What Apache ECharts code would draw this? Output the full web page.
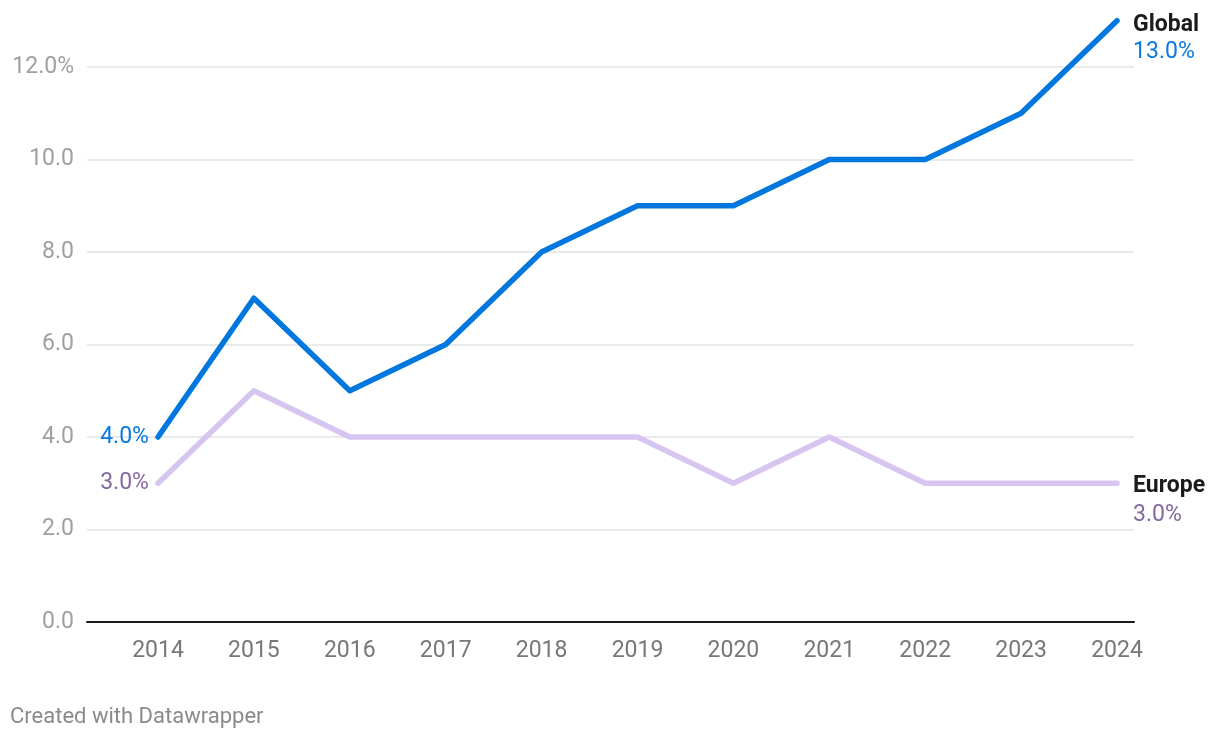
<!DOCTYPE html>
<html>
<head>
<meta charset="utf-8">
<script src="https://cdn.jsdelivr.net/npm/echarts@6/dist/echarts.min.js"></script>
<style>
html,body{margin:0;padding:0;background:#fff;}
#c{width:1220px;height:738px;}
</style>
</head>
<body>
<div id="c"></div>
<script>
const years = ['2014','2015','2016','2017','2018','2019','2020','2021','2022','2023','2024'];
const globalValues = [4, 7, 5, 6, 8, 9, 9, 10, 10, 11, 13];
const europeValues = [3, 5, 4, 4, 4, 4, 3, 4, 3, 3, 3];
const yTicks = [0, 2, 4, 6, 8, 10, 12];

const FONT = 'Roboto';
const FS = 23;

function buildData(values, name, color, lh, shift) {
  const n = values.length;
  return values.map((v, i) => {
    if (i === 0) {
      return { value: v, label: { show: true, position: 'left', distance: 9,
        formatter: v.toFixed(1) + '%', color: color, fontSize: FS, fontFamily: FONT,
        padding: [2, 0, 0, 0] } };
    }
    if (i === n - 1) {
      return { value: v, label: { show: true, position: 'right', distance: 16,
        verticalAlign: 'top', align: 'left', offset: [0, -lh / 2 + shift],
        formatter: '{n|' + name + '}\n{v|' + v.toFixed(1) + '%}',
        rich: {
          n: { fontSize: FS, fontWeight: 'bold', color: '#1b1b1b', fontFamily: FONT, lineHeight: lh },
          v: { fontSize: FS, color: color, fontFamily: FONT, lineHeight: lh }
        } } };
    }
    return { value: v };
  });
}

const chart = echarts.init(document.getElementById('c'), null, { renderer: 'canvas' });
chart.setOption({
  animation: false,
  backgroundColor: '#ffffff',
  grid: [
    { left: 87, right: 86, top: 67, bottom: 116 },
    { left: 158, right: 103, top: 67, bottom: 116 }
  ],
  xAxis: [
    { gridIndex: 0, type: 'value', min: 0, max: 1,
      axisLine: { show: true, lineStyle: { color: '#1a1a1a', width: 2 } },
      axisTick: { show: false }, axisLabel: { show: false }, splitLine: { show: false } },
    { gridIndex: 1, type: 'category', data: years, boundaryGap: false,
      axisLine: { show: false }, axisTick: { show: false }, splitLine: { show: false },
      axisLabel: { color: '#777777', fontSize: FS, fontFamily: FONT, margin: 18 } }
  ],
  yAxis: [
    { gridIndex: 0, type: 'value', min: yTicks[0], max: yTicks[yTicks.length - 1], interval: 2,
      axisLine: { show: false }, axisTick: { show: false },
      splitLine: { show: true, lineStyle: { color: '#e3e3e3', width: 1.5 } },
      axisLabel: { color: '#a0a0a0', fontSize: FS, fontFamily: FONT, margin: 13,
        padding: [3, 0, 0, 0],
        formatter: v => v === 12 ? v.toFixed(1) + '%' : v.toFixed(1) } },
    { gridIndex: 1, type: 'value', min: 0, max: 12, show: false, splitLine: { show: false } }
  ],
  series: [
    { name: 'Europe', type: 'line', xAxisIndex: 1, yAxisIndex: 1, clip: false,
      data: buildData(europeValues, 'Europe', '#83689f', 29, 3),
      symbol: 'circle', symbolSize: 0.1, showSymbol: true,
      itemStyle: { color: '#d6c5f0' },
      lineStyle: { color: '#d6c5f0', width: 5.5, cap: 'round', join: 'round' } },
    { name: 'Global', type: 'line', xAxisIndex: 1, yAxisIndex: 1, clip: false,
      data: buildData(globalValues, 'Global', '#0a79e0', 27, 4),
      symbol: 'circle', symbolSize: 0.1, showSymbol: true,
      itemStyle: { color: '#0077de' },
      lineStyle: { color: '#0077de', width: 5.5, cap: 'round', join: 'round' } }
  ],
  graphic: [
    { type: 'text', left: 10, top: 706,
      style: { text: 'Created with Datawrapper', fill: '#8a8a8a', fontSize: 22, fontFamily: FONT } }
  ]
});
</script>
</body>
</html>
